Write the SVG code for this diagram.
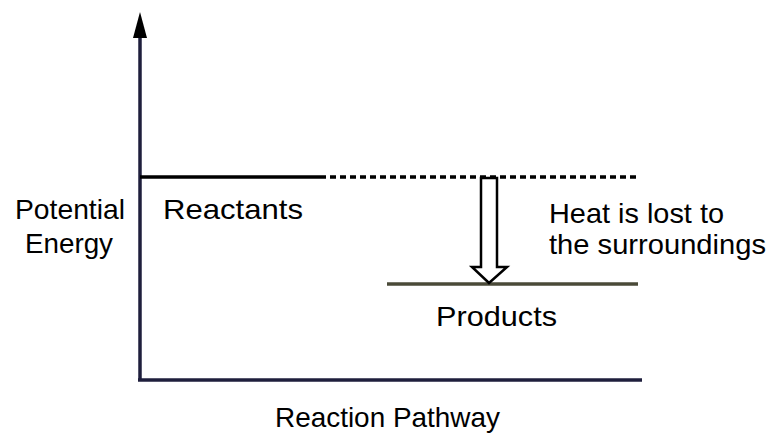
<svg xmlns="http://www.w3.org/2000/svg" width="771" height="435" viewBox="0 0 771 435">
<style>
text{font-family:"Liberation Sans",Arial,sans-serif;font-size:28px;fill:#000}
.ax{stroke:#1e1e3c;stroke-width:3.5;fill:none}
.lvl{stroke:#000;stroke-width:3.5;fill:none}
</style>
<rect width="771" height="435" fill="#fff"/>
<g id="axes">
<line class="ax" x1="140" y1="30" x2="140" y2="380"/>
<polygon points="140,12 147,38 133,38" fill="#000"/>
<line class="ax" x1="138" y1="380" x2="642" y2="380"/>
</g>
<g id="reactants">
<line class="lvl" x1="140" y1="177" x2="320" y2="177"/>
<line class="lvl" x1="320" y1="177" x2="640" y2="177" stroke-dasharray="6,4"/>
<text x="163" y="219" textLength="140" lengthAdjust="spacingAndGlyphs">Reactants</text>
</g>
<g id="products">
<line stroke="#4a4a38" stroke-width="3.5" x1="387" y1="284" x2="638" y2="284"/>
<text x="436" y="326" textLength="121" lengthAdjust="spacingAndGlyphs">Products</text>
</g>
<g id="connectors">
<polygon points="481,178 497,178 497,267 507,267 489,283 472,267 481,267" fill="#fff" stroke="#000" stroke-width="2.5" stroke-linejoin="miter"/>
</g>
<g id="labels">
<text x="15" y="219" textLength="110" lengthAdjust="spacingAndGlyphs">Potential</text>
<text x="25" y="253" textLength="88" lengthAdjust="spacingAndGlyphs">Energy</text>
<text x="549" y="223" textLength="175" lengthAdjust="spacingAndGlyphs">Heat is lost to</text>
<text x="549" y="254" textLength="217" lengthAdjust="spacingAndGlyphs">the surroundings</text>
<text x="275" y="427" textLength="225" lengthAdjust="spacingAndGlyphs">Reaction Pathway</text>
</g>
</svg>
